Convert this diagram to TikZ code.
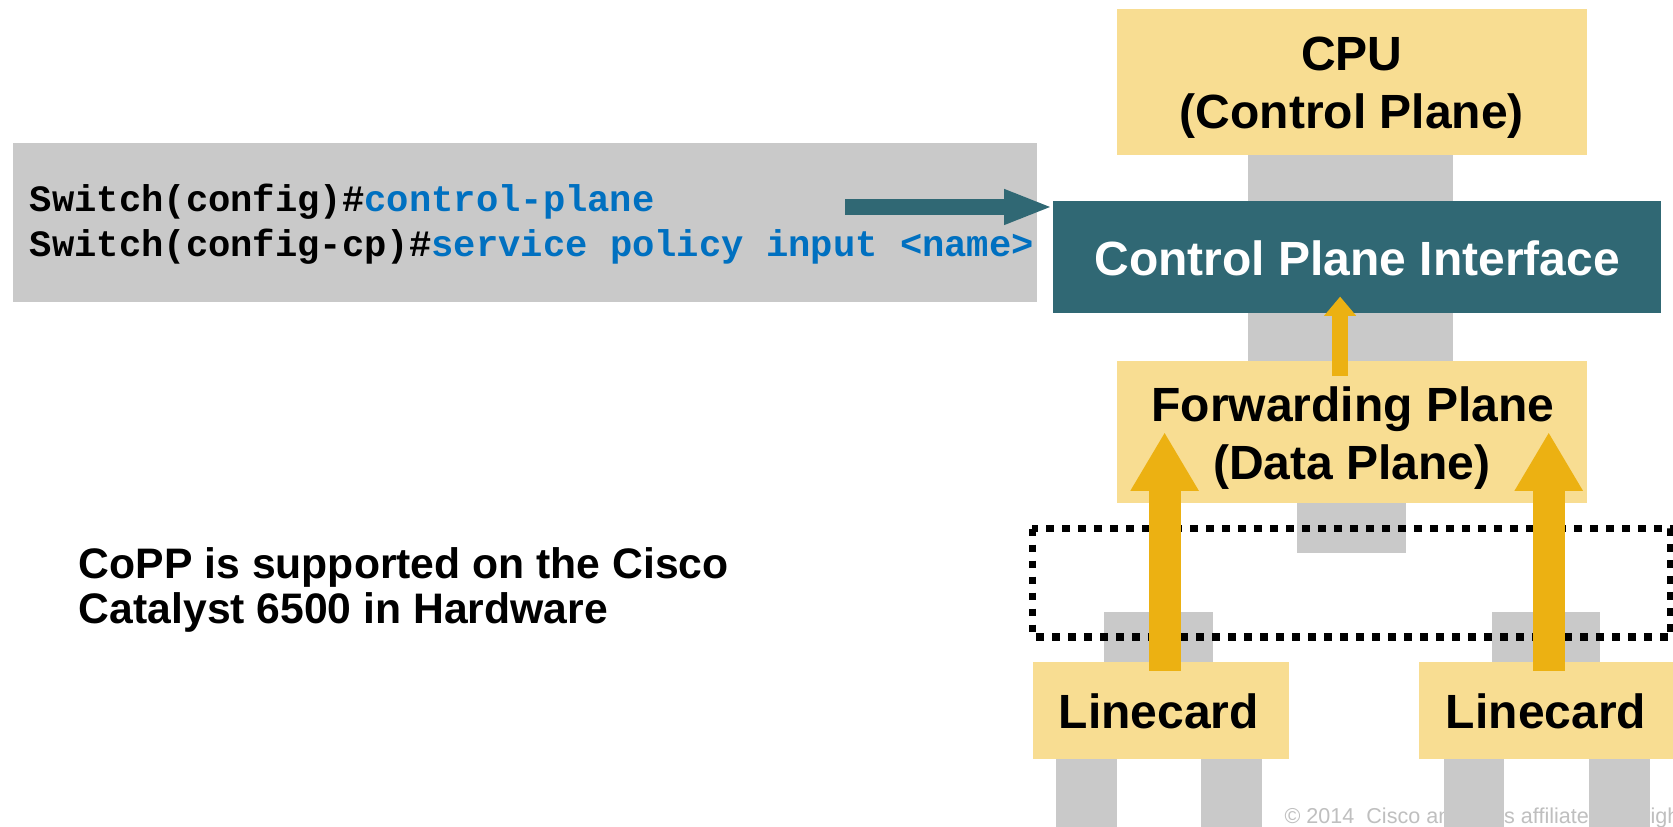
\documentclass[tikz,border=0pt]{standalone}
\usepackage{fontspec}
\setmainfont{Liberation Sans}
\setmonofont{Liberation Mono}
\usetikzlibrary{arrows.meta}
\definecolor{yel}{HTML}{F8DD92}
\definecolor{gry}{HTML}{C9C9C9}
\definecolor{tealbox}{HTML}{306874}
\definecolor{gold}{HTML}{ECB112}
\definecolor{cblue}{HTML}{0070C0}
\definecolor{copyc}{HTML}{BFBFBF}
\begin{document}
\begin{tikzpicture}[x=1pt,y=-1pt,
  plain/.style={inner sep=0pt,outer sep=0pt},
  ybox/.style={plain,fill=yel},
  tbox/.style={plain,fill=tealbox},
  gbox/.style={plain,fill=gry},
  bigtxt/.style={plain,anchor=base,font=\bfseries\fontsize{45}{54}\selectfont},
  codetxt/.style={plain,anchor=base west,font=\ttfamily\bfseries\fontsize{34.85}{40}\selectfont},
  bar/.style={fill=gry},
  tealarrow/.style={draw=tealbox,line width=15.5pt,-{Triangle[width=30pt,length=46pt]}},
  bigarrow/.style={draw=gold,line width=30pt,-{Triangle[width=60pt,length=55pt]}},
  smallarrow/.style={draw=gold,line width=14.6pt,-{Triangle[width=29pt,length=18pt]}},
  dotbox/.style={draw=black,line width=7pt,dash pattern=on 7pt off 8pt}
]
\clip (0,0) rectangle (1568,775);
\fill[white] (0,0) rectangle (1568,775);

% code box
\node[gbox,minimum width=960pt,minimum height=149pt] (code) at (492,208.5) {};
\node[codetxt] (l1) at (28,197.8) {Switch(config)\#\textcolor{cblue}{control-plane}};
\node[codetxt] (l2) at (28,240.6) {Switch(config-cp)\#\textcolor{cblue}{service policy input <name>}};

% info text
\node[plain,anchor=base west,align=left,font=\bfseries\fontsize{40}{42}\selectfont] (info) at (74,584) {CoPP is supported on the Cisco\\Catalyst 6500 in Hardware};

% gray connector bars
\fill[bar] (1170,145) rectangle (1362,188);
\fill[bar] (1170,293) rectangle (1362,338);
\fill[bar] (1216,471) rectangle (1318,518);
\fill[bar] (1035,574) rectangle (1137,620);
\fill[bar] (1398,574) rectangle (1500,620);

% boxes
\node[ybox,minimum width=440pt,minimum height=137pt] (cpu) at (1267,76.5) {};
\node[bigtxt] at (1267,66.3) {CPU};
\node[bigtxt] at (1267,120.3) {(Control Plane)};

\node[tbox,minimum width=570pt,minimum height=105pt] (cpi) at (1272,240.5) {};
\node[bigtxt,text=white] at (1272,257.8) {Control Plane Interface};

\node[ybox,minimum width=440pt,minimum height=133pt] (fp) at (1267,404.5) {};
\node[bigtxt] at (1268,395) {Forwarding Plane};
\node[bigtxt] at (1267,449) {(Data Plane)};

\node[ybox,minimum width=240pt,minimum height=91pt] (lc1) at (1088,665.5) {};
\node[bigtxt] at (1086,682.6) {Linecard};
\node[ybox,minimum width=238pt,minimum height=91pt] (lc2) at (1449,665.5) {};
\node[bigtxt] at (1449,682.6) {Linecard};

% dotted region
\draw[dotbox] (967.5,495.5) rectangle (1566,597);

% arrows
\coordinate (ts) at (792,194);
\draw[tealarrow] (ts) -- (cpi.west |- ts);

\coordinate (a1s) at (1091.5,628.6);
\coordinate (a1e) at (1091.5,405);
\draw[bigarrow] (a1s) -- (a1e);
\coordinate (a2s) at (1451.5,628.6);
\coordinate (a2e) at (1451.5,405);
\draw[bigarrow] (a2s) -- (a2e);
\coordinate (a3s) at (1256,352.5);
\coordinate (a3e) at (1256,278);
\draw[smallarrow] (a3s) -- (a3e);

% copyright
\node[plain,anchor=base west,text=copyc,font=\fontsize{20.2}{24}\selectfont] (copy) at (1204,772) {© 2014\ \ Cisco and/or its affiliates. All rights reserved.};

% legs
\fill[bar] (990,711) rectangle (1047,775);
\fill[bar] (1126,711) rectangle (1183,775);
\fill[bar] (1353,711) rectangle (1410,775);
\fill[bar] (1489,711) rectangle (1546,775);
\end{tikzpicture}
\end{document}
